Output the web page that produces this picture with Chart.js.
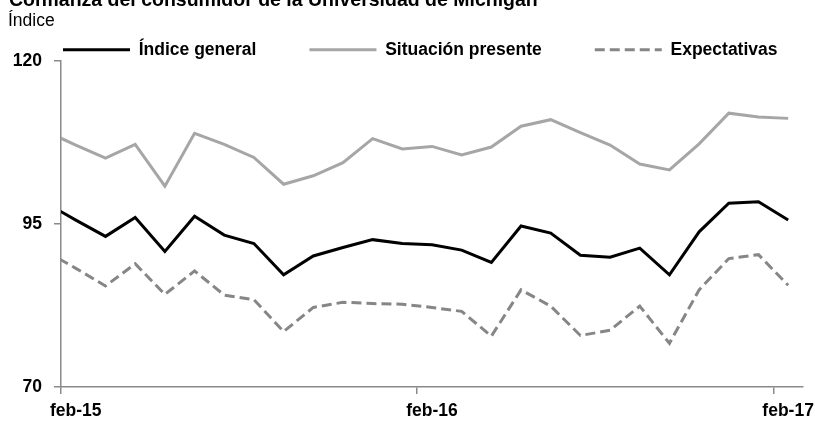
<!DOCTYPE html>
<html>
<head>
<meta charset="utf-8">
<script src="https://cdn.jsdelivr.net/npm/chart.js@4/dist/chart.umd.min.js"></script>
<style>
  html, body { margin: 0; padding: 0; background: #fff; overflow: hidden; }
  #wrap { position: relative; width: 815px; height: 421px; overflow: hidden; }
  .txt { position: absolute; line-height: 1; white-space: nowrap; font-family: 'Liberation Sans', Arial, sans-serif; color: #000; }
  #title { left: 9px; top: -10px; font-size: 19.5px; font-weight: bold; }
  #sub { left: 8px; top: 12px; font-size: 17.5px; }
  canvas { position: absolute; left: 0; top: 0; }
</style>
</head>
<body>
<div id="wrap">
  <canvas id="c" width="815" height="421"></canvas>
  <div id="title" class="txt">Confianza del consumidor de la Universidad de Michigan</div>
  <div id="sub" class="txt">Índice</div>
</div>
<script>
// Months (data points sit at mid-month; axis starts at 1 Feb 2015)
const meses = ['ene-15','feb-15','mar-15','abr-15','may-15','jun-15','jul-15','ago-15','sep-15','oct-15','nov-15','dic-15',
               'ene-16','feb-16','mar-16','abr-16','may-16','jun-16','jul-16','ago-16','sep-16','oct-16','nov-16','dic-16',
               'ene-17','feb-17'];
const indiceGeneral = [98.2, 95.6, 93.1, 96.0, 90.8, 96.2, 93.3, 92.0, 87.2, 90.1, 91.4, 92.6,
                       92.0, 91.8, 91.0, 89.1, 94.7, 93.6, 90.2, 89.9, 91.3, 87.2, 93.8, 98.2,
                       98.4, 95.6];
const situacionPresente = [109.2, 107.1, 105.1, 107.2, 100.8, 108.9, 107.2, 105.2, 101.1, 102.4, 104.4, 108.1,
                           106.5, 106.9, 105.6, 106.8, 110.0, 111.0, 109.0, 107.1, 104.2, 103.3, 107.3, 112.0,
                           111.4, 111.2];
const expectativas = [90.8, 88.2, 85.5, 88.9, 84.2, 87.8, 84.1, 83.4, 78.5, 82.2, 83.0, 82.8,
                      82.7, 82.2, 81.6, 77.8, 84.9, 82.4, 77.9, 78.7, 82.4, 76.7, 84.9, 89.7,
                      90.3, 85.6];
const xTickPositions = [0, 12, 24];          // month offsets from feb-15
const xTickLabels = ['feb-15', 'feb-16', 'feb-17'];
const yTicks = [70, 95, 120];

// x position: months since 1 Feb 2015, placed at mid-month
const toPoints = arr => arr.map((v, i) => ({ x: i - 0.5, y: v }));

const FONT = "'Liberation Sans', Arial, sans-serif";
const AXIS = '#8a8a8a';

// keep the legend on one row and give it a fixed height
const legendFix = {
  id: 'legendFix',
  beforeInit(chart) {
    if (!chart.legend) return;
    const orig = chart.legend.fit;
    chart.legend.fit = function () { this.maxWidth = 2000; orig.call(this); this.height = 73; };
  },
  afterLayout(chart) {
    if (chart.legend) chart.legend.right = chart.legend.left + 2000;
  }
};

new Chart(document.getElementById('c'), {
  type: 'line',
  data: {
    datasets: [
      { label: 'Índice general', data: toPoints(indiceGeneral), borderColor: '#000000', backgroundColor: '#000000',
        borderWidth: 3, pointRadius: 0, tension: 0, clip: 0 },
      { label: 'Situación presente', data: toPoints(situacionPresente), borderColor: '#a6a6a6', backgroundColor: '#a6a6a6',
        borderWidth: 3, pointRadius: 0, tension: 0, clip: 0 },
      { label: 'Expectativas', data: toPoints(expectativas), borderColor: '#868686', backgroundColor: '#868686',
        borderWidth: 3, borderDash: [10, 5], pointRadius: 0, tension: 0, clip: 0 }
    ]
  },
  plugins: [legendFix],
  options: {
    responsive: false,
    animation: false,
    devicePixelRatio: 1,
    layout: { padding: { left: 10, right: 12, top: -12, bottom: 0 } },
    plugins: {
      title: { display: false },
      tooltip: { enabled: false },
      legend: {
        display: true,
        position: 'top',
        align: 'start',
        labels: {
          usePointStyle: true,
          pointStyle: 'line',
          pointStyleWidth: 67,
          padding: 53,
          color: '#000',
          font: { family: FONT, size: 17.5, weight: 'bold' },
          generateLabels: chart => {
            const items = Chart.defaults.plugins.legend.labels.generateLabels(chart);
            items.forEach(it => {
              const ds = chart.data.datasets[it.datasetIndex];
              it.lineDash = ds.borderDash || [];
              it.lineWidth = ds.borderWidth;
              it.strokeStyle = ds.borderColor;
              it.fillStyle = ds.borderColor;
              it.pointStyle = 'line';
              it.lineCap = 'butt';
            });
            return items;
          }
        }
      }
    },
    scales: {
      x: {
        type: 'linear',
        min: 0,
        max: 25,
        afterBuildTicks: s => { s.ticks = xTickPositions.map(v => ({ value: v })); },
        afterFit: s => { s.height = 34; },
        ticks: {
          autoSkip: false,
          maxRotation: 0,
          labelOffset: 14.8,
          padding: 6.5,
          color: '#000',
          font: { family: FONT, size: 17.5, weight: 'bold' },
          callback: v => xTickLabels[xTickPositions.indexOf(v)]
        },
        grid: { display: true, drawOnChartArea: false, drawTicks: true, tickLength: 7, color: AXIS, lineWidth: 1.5 },
        border: { display: true, color: AXIS, width: 1.5 }
      },
      y: {
        min: 70,
        max: 120,
        afterBuildTicks: s => { s.ticks = yTicks.map(v => ({ value: v })); },
        afterFit: s => { s.width = 51; },
        ticks: {
          padding: 12,
          color: '#000',
          font: { family: FONT, size: 17.5, weight: 'bold' }
        },
        grid: { display: true, drawOnChartArea: false, drawTicks: true, tickLength: 7, color: AXIS, lineWidth: 1.5 },
        border: { display: true, color: AXIS, width: 1.5 }
      }
    }
  }
});
</script>
</body>
</html>
